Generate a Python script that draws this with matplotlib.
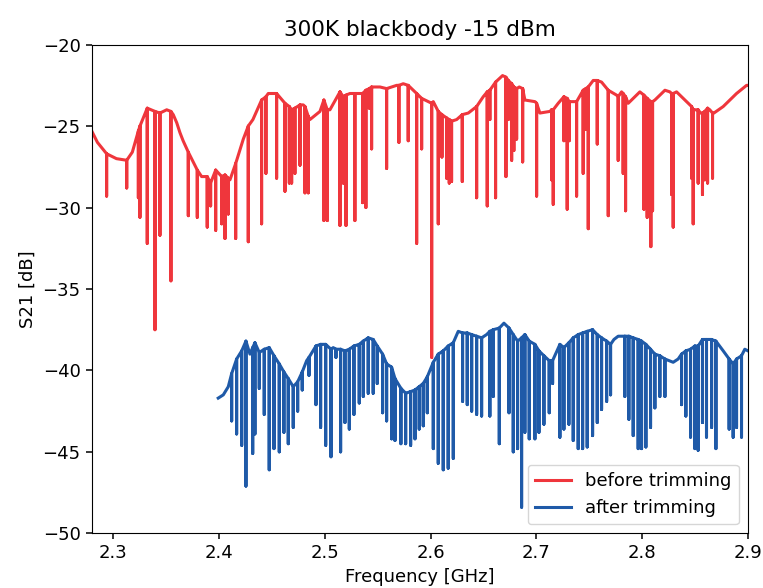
import numpy as np
import matplotlib.pyplot as plt

nan = np.nan

# S21 before trimming: frequency [GHz], baseline level [dB], resonance dip bottom [dB]
red_freq = [2.2796, 2.2850, 2.2937, 2.3030, 2.3127, 2.3180, 2.3237, 2.3252, 2.3321, 2.3394,
            2.3441, 2.3505, 2.3545, 2.3567, 2.3600, 2.3630, 2.3660, 2.3709, 2.3794, 2.3835,
            2.3888, 2.3920, 2.3968, 2.4025, 2.4056, 2.4087, 2.4103, 2.4157, 2.4229, 2.4276,
            2.4320, 2.4402, 2.4443, 2.4465, 2.4544, 2.4623, 2.4664, 2.4686, 2.4717, 2.4765,
            2.4796, 2.4812, 2.4843, 2.4859, 2.4954, 2.4991, 2.5023, 2.5048, 2.5143, 2.5174,
            2.5200, 2.5237, 2.5284, 2.5332, 2.5357, 2.5388, 2.5420, 2.5442, 2.5521, 2.5584,
            2.5679, 2.5700, 2.5741, 2.5788, 2.5836, 2.5868, 2.5915, 2.5946, 2.6010, 2.6025,
            2.6072, 2.6107, 2.6151, 2.6176, 2.6198, 2.6246, 2.6299, 2.6356, 2.6435, 2.6497,
            2.6535, 2.6560, 2.6614, 2.6680, 2.6712, 2.6734, 2.6766, 2.6787, 2.6813, 2.6838,
            2.6870, 2.6891, 2.6986, 2.7002, 2.7033, 2.7127, 2.7143, 2.7159, 2.7206, 2.7260,
            2.7291, 2.7310, 2.7348, 2.7380, 2.7442, 2.7467, 2.7490, 2.7537, 2.7575, 2.7616,
            2.7679, 2.7758, 2.7773, 2.7805, 2.7820, 2.7843, 2.7868, 2.7978, 2.8016, 2.8047,
            2.8082, 2.8098, 2.8120, 2.8215, 2.8262, 2.8278, 2.8293, 2.8325, 2.8435, 2.8467,
            2.8482, 2.8507, 2.8529, 2.8552, 2.8570, 2.8592, 2.8618, 2.8639, 2.8665, 2.8678,
            2.8766, 2.8892, 2.8987, 2.9000]
red_level = [-25.3, -26.0, -26.7, -27.0, -27.1, -26.6, -25.3, -25.0, -23.9, -24.1,
             -24.2, -24.0, -24.1, -24.3, -24.8, -25.4, -25.9, -26.6, -27.7, -28.1,
             -28.1, -28.5, -27.7, -28.1, -28.0, -28.2, -28.3, -27.3, -25.8, -25.0,
             -24.6, -23.4, -23.2, -23.0, -23.0, -23.6, -23.8, -24.0, -23.9, -23.7,
             -23.7, -23.8, -24.4, -24.6, -24.1, -23.4, -24.0, -24.0, -22.9, -23.2,
             -23.1, -23.0, -23.0, -23.0, -23.0, -22.8, -22.7, -22.6, -22.6, -22.7,
             -22.5, -22.5, -22.4, -22.5, -22.8, -23.0, -23.3, -23.4, -23.6, -23.5,
             -24.1, -24.3, -24.5, -24.6, -24.7, -24.6, -24.3, -24.2, -23.8, -23.2,
             -22.9, -22.8, -22.3, -21.9, -22.0, -22.2, -22.4, -22.6, -22.7, -22.6,
             -22.7, -23.4, -23.5, -23.6, -24.2, -24.1, -24.0, -24.0, -23.6, -23.2,
             -23.3, -23.5, -23.5, -23.5, -22.8, -22.7, -22.6, -22.2, -22.2, -22.3,
             -22.8, -23.1, -23.2, -22.9, -23.0, -23.2, -23.6, -22.9, -23.1, -23.3,
             -23.5, -23.5, -23.4, -22.8, -22.9, -23.0, -23.0, -22.9, -23.6, -23.8,
             -24.0, -24.0, -24.0, -24.2, -24.2, -24.1, -23.9, -24.0, -24.2, -24.2,
             -23.8, -23.0, -22.5, -22.5]
red_dip = [nan, nan, -29.3, nan, -28.8, nan, -29.4, -30.6, -32.2, -37.5,
           -31.7, nan, -34.5, nan, nan, nan, nan, -30.5, -30.6, nan,
           -31.2, -29.9, -31.4, -31.0, -31.9, -30.4, nan, -31.9, nan, -32.1,
           nan, -31.0, -27.9, nan, -28.2, -29.0, -28.5, -28.5, -27.9, -27.4,
           nan, -29.1, -29.1, nan, nan, -30.8, -30.8, nan, -31.1, -28.5,
           -31.1, nan, -30.8, nan, -29.7, -30.0, -23.9, -26.4, nan, -27.6,
           nan, -26.0, nan, -25.9, nan, -32.2, -26.4, nan, -39.2, nan,
           -31.0, -26.9, -28.2, -28.5, -28.4, nan, -28.4, nan, -29.4, nan,
           -29.9, -24.6, -29.4, nan, -28.1, -24.6, -27.1, -26.5, -25.8, nan,
           -27.2, nan, nan, -29.3, nan, nan, -28.3, -29.8, nan, -25.9,
           -30.1, -25.9, nan, -29.3, -27.9, -25.2, -31.3, nan, -26.1, nan,
           -30.5, nan, -27.1, nan, -27.9, -30.2, nan, nan, -30.1, -30.6,
           -32.4, -30.2, nan, nan, nan, -29.2, -31.2, nan, nan, -28.2,
           -31.0, nan, -28.5, nan, -29.2, -28.3, -28.5, nan, -28.2, nan,
           nan, nan, nan, nan]

# S21 after trimming
blue_freq = [2.3992, 2.4040, 2.4087, 2.4119, 2.4166, 2.4214, 2.4254, 2.4292, 2.4318, 2.4339,
             2.4380, 2.4427, 2.4474, 2.4519, 2.4569, 2.4613, 2.4654, 2.4701, 2.4743, 2.4786,
             2.4828, 2.4850, 2.4916, 2.4960, 2.5008, 2.5058, 2.5079, 2.5105, 2.5149, 2.5190,
             2.5231, 2.5275, 2.5325, 2.5363, 2.5410, 2.5457, 2.5495, 2.5546, 2.5584, 2.5631,
             2.5663, 2.5719, 2.5764, 2.5811, 2.5852, 2.5892, 2.5930, 2.5968, 2.6025, 2.6072,
             2.6119, 2.6166, 2.6214, 2.6261, 2.6302, 2.6346, 2.6388, 2.6435, 2.6482, 2.6529,
             2.6560, 2.6592, 2.6649, 2.6693, 2.6741, 2.6781, 2.6822, 2.6860, 2.6891, 2.6932,
             2.6986, 2.7024, 2.7071, 2.7121, 2.7153, 2.7222, 2.7260, 2.7307, 2.7348, 2.7395,
             2.7437, 2.7480, 2.7531, 2.7575, 2.7616, 2.7664, 2.7701, 2.7733, 2.7773, 2.7836,
             2.7874, 2.7915, 2.7962, 2.7994, 2.8035, 2.8079, 2.8120, 2.8167, 2.8215, 2.8293,
             2.8340, 2.8372, 2.8413, 2.8457, 2.8498, 2.8529, 2.8570, 2.8608, 2.8656, 2.8697,
             2.8766, 2.8822, 2.8860, 2.8892, 2.8939, 2.8970, 2.9000]
blue_level = [-41.7, -41.5, -41.0, -40.2, -39.3, -38.8, -38.2, -39.0, -38.6, -38.3,
              -38.9, -38.7, -38.6, -39.1, -39.6, -40.1, -40.5, -41.0, -40.7, -40.1,
              -39.4, -39.2, -38.5, -38.4, -38.4, -38.7, -38.6, -38.7, -38.7, -38.8,
              -38.7, -38.5, -38.4, -38.2, -38.0, -38.1, -38.5, -39.0, -39.6, -39.8,
              -40.5, -41.1, -41.4, -41.3, -41.2, -41.0, -40.8, -40.4, -39.5, -39.0,
              -38.8, -38.5, -38.3, -37.6, -37.7, -37.7, -37.8, -37.9, -38.0, -37.8,
              -37.6, -37.5, -37.4, -37.1, -37.4, -37.8, -38.2, -38.0, -37.8, -38.2,
              -38.4, -38.8, -39.1, -39.4, -39.4, -38.4, -38.6, -38.3, -38.0, -37.8,
              -37.7, -37.6, -37.5, -37.8, -38.0, -38.2, -38.4, -38.1, -37.9, -37.9,
              -37.9, -38.0, -38.1, -38.2, -38.4, -38.7, -39.0, -39.1, -39.3, -39.5,
              -39.3, -39.0, -38.8, -38.7, -38.5, -38.5, -38.1, -38.1, -38.1, -38.2,
              -38.8, -39.3, -39.6, -39.3, -39.1, -38.7, -38.8]
blue_dip = [nan, nan, nan, -43.1, -43.9, -44.6, -47.1, nan, -45.1, -43.9,
            -41.1, -42.7, -46.1, -44.8, -45.0, -43.8, -44.5, -43.5, -42.5, -41.2,
            nan, -40.3, -42.1, -43.5, -44.6, -45.3, nan, -39.2, -45.0, -43.2,
            -43.6, -42.7, -42.0, -41.6, -41.4, -41.4, -40.8, -42.6, -43.1, -44.2,
            -44.3, -44.5, -44.5, -44.6, -44.2, -43.6, -43.4, -42.6, -44.8, -45.7,
            -46.1, -46.0, -45.4, nan, -41.9, -42.1, -42.5, -42.7, -42.8, nan,
            -42.8, -41.6, -44.5, nan, -42.6, -45.0, -44.8, -48.4, -43.8, -44.2,
            -44.2, -43.8, -43.3, -42.6, -40.8, -44.1, -43.6, -43.3, -44.3, -44.8,
            -44.8, -44.7, -44.0, -43.2, -42.4, -41.9, -41.5, nan, nan, -41.6,
            -43.0, -44.0, -44.8, -44.8, -44.7, -43.5, -42.3, -41.6, -41.6, nan,
            nan, -42.1, -42.8, -44.1, -44.8, -44.9, -43.2, -44.1, -43.5, -44.8,
            nan, -43.6, -44.1, -43.5, -44.1, nan, nan]


def trace(freq, level, dip):
    # each resonance is drawn as a narrow drop from the baseline and back
    xs, ys = [], []
    for f, lv, d in zip(freq, level, dip):
        xs.append(f)
        ys.append(lv)
        if not np.isnan(d):
            xs += [f, f]
            ys += [d, lv]
    return xs, ys


fig = plt.figure(figsize=(7.63, 5.88), dpi=100)
ax = fig.add_axes([0.1202, 0.093, 0.8601, 0.8311])

rx, ry = trace(red_freq, red_level, red_dip)
bx, by = trace(blue_freq, blue_level, blue_dip)
ax.plot(rx, ry, color='#ef363c', lw=2.2, label='before trimming')
ax.plot(bx, by, color='#1f5aa8', lw=2.2, label='after trimming')

ax.set_xlim(2.2796, 2.9)
ax.set_ylim(-50, -20)
ax.set_xticks([2.3, 2.4, 2.5, 2.6, 2.7, 2.8, 2.9])
ax.tick_params(labelsize=13, width=1.1, length=4.5)
ax.set_xlabel('Frequency [GHz]', fontsize=13)
ax.set_ylabel('S21 [dB]', fontsize=13)
ax.set_title('300K blackbody -15 dBm', fontsize=15.6)
ax.legend(loc='lower right', fontsize=13)

fig.savefig('out.png')
